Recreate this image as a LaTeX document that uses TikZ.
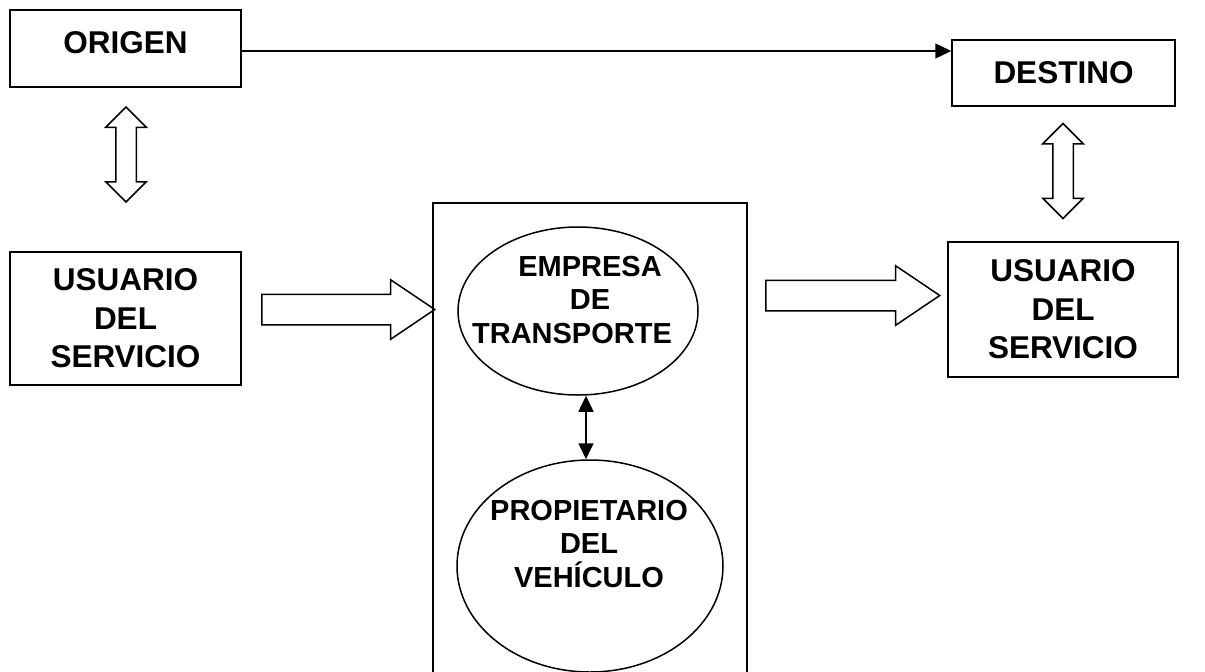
\documentclass[tikz,border=0pt]{standalone}
\usepackage{fontspec}
\setmainfont{Liberation Sans}
\usepackage{tikz}
\usetikzlibrary{shapes,arrows,arrows.meta}

\tikzset{
  box/.style={draw,line width=1.5pt,align=center,inner sep=0pt,
    font=\fontsize{31.5}{38.5}\selectfont\bfseries},
  ell/.style={ellipse,draw,line width=1.5pt,inner sep=0pt},
  etxt/.style={align=center,font=\fontsize{29}{33.5}\selectfont\bfseries},
  fat/.style={single arrow,draw,line width=1.5pt,inner sep=0pt,
    text height=29pt,text depth=0pt,single arrow head extend=14.5pt,
    single arrow tip angle=68,single arrow head indent=0pt,anchor=tail},
  dfat/.style={double arrow,draw,line width=1.5pt,inner sep=0pt,
    text height=19pt,text depth=0pt,double arrow head extend=10pt,
    double arrow tip angle=90,double arrow head indent=0pt,
    minimum height=95pt,rotate=90},
  tip/.style={line width=1.5pt},
}

\begin{document}
\begin{tikzpicture}[x=1pt,y=-1pt]
\clip (0,0) rectangle (1205,672);

\node [box,minimum width=231pt,minimum height=77pt,text depth=12pt] (origen) at (125.5,48.5) {ORIGEN};
\node [box,minimum width=223pt,minimum height=66pt] (destino) at (1063.5,73) {DESTINO};
\node [box,minimum width=231pt,minimum height=133pt] (usr1) at (125.5,318.5) {USUARIO\\DEL\\SERVICIO};
\node [box,minimum width=230pt,minimum height=135pt] (usr2) at (1063,309.5) {USUARIO\\DEL\\SERVICIO};

% caja central, abierta por abajo
\node [draw,line width=1.5pt,minimum width=314pt,minimum height=520pt] (serv) at (590,463) {};

\node [ell,minimum width=240pt,minimum height=168pt] (emp) at (578,311) {};
\node [etxt] (empt) at (590,300) {EMPRESA\\DE\\TRANSPORTE\hspace*{36pt}};
\node [ell,minimum width=266pt,minimum height=212pt] (prop) at (590,566) {};
\node [etxt] (propt) at (589,544) {PROPIETARIO\\DEL\\VEHÍCULO};

\draw [tip,-{Triangle[length=16pt,width=15pt]}] ([yshift=-2.5pt]origen.east) -- ([yshift=-2.5pt]origen.east -| destino.west);
\draw [tip,{Triangle[length=16pt,width=15pt]}-{Triangle[length=16pt,width=15pt]}] ([xshift=8pt]emp.south) -- ([xshift=-4pt]prop.north);

\node [dfat] (da1) at (126,154.5) {};
\node [dfat] (da2) at (1063,171) {};
\node [fat,minimum height=173pt] (fa1) at (261,309.5) {};
\node [fat,minimum height=174pt] (fa2) at (765,295.5) {};

\end{tikzpicture}
\end{document}
